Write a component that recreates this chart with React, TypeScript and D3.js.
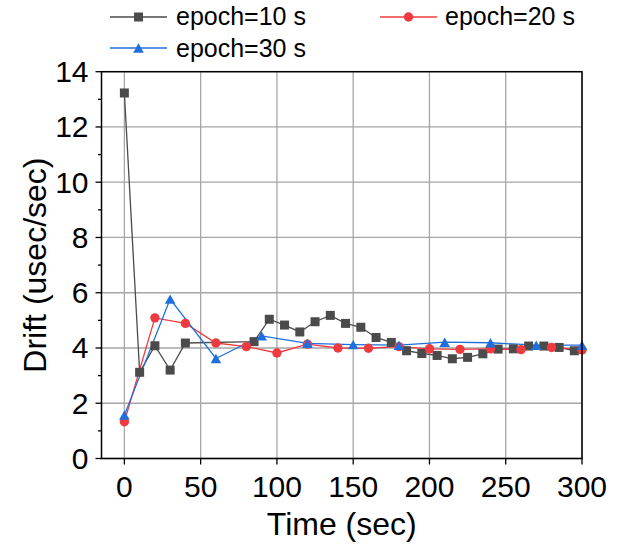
import React from "react";
import * as d3 from "d3";

const xTicks = [0, 50, 100, 150, 200, 250, 300];
const yTicks = [0, 2, 4, 6, 8, 10, 12, 14];
const yMinor = [1, 3, 5, 7, 9, 11, 13];

const e10X = [0, 10, 20, 30, 40, 85, 95, 105, 115, 125, 135, 145, 155, 165, 175, 185, 195, 205, 215, 225, 235, 245, 255, 265, 275, 285, 295];
const e10Y = [13.23, 3.12, 4.08, 3.2, 4.18, 4.23, 5.04, 4.83, 4.58, 4.95, 5.18, 4.89, 4.75, 4.38, 4.2, 3.9, 3.8, 3.73, 3.61, 3.66, 3.79, 3.96, 3.97, 4.07, 4.07, 4.02, 3.9];

const e20X = [0, 20, 40, 60, 80, 100, 120, 140, 160, 180, 200, 220, 240, 260, 280, 300];
const e20Y = [1.33, 5.09, 4.89, 4.18, 4.05, 3.82, 4.14, 4.0, 3.99, 4.05, 3.97, 3.95, 3.97, 3.94, 4.02, 3.93];

const e30X = [0, 30, 60, 90, 120, 150, 180, 210, 240, 270, 300];
const e30Y = [1.57, 5.77, 3.62, 4.44, 4.17, 4.12, 4.1, 4.21, 4.19, 4.1, 4.1];

const seriesNames = ["epoch=10 s", "epoch=20 s", "epoch=30 s"];
const colors = ["#4b4b4b", "#ef3b40", "#1f6fdc"];
const shapes = ["square", "circle", "triangle"];

const FONT = "'Liberation Sans', Arial, sans-serif";

const L = 101.5, R = 582, T = 71.7, B = 458.5;

function Marker({ shape, x, y, color }: { shape: string; x: number; y: number; color: string }) {
  if (shape === "square") return <rect x={x - 4.5} y={y - 4.5} width={9} height={9} fill={color} />;
  if (shape === "circle") return <circle cx={x} cy={y} r={4.7} fill={color} />;
  const w = 10.6, h = 9.4;
  return <path d={`M${x},${y - h / 2}L${x + w / 2},${y + h / 2}L${x - w / 2},${y + h / 2}Z`} fill={color} />;
}

export default function App() {
  const x = d3.scaleLinear().domain([-15, 300]).range([L, R]);
  const y = d3.scaleLinear().domain([0, 14]).range([B, T]);
  const line = d3.line<[number, number]>().x((d) => x(d[0])).y((d) => y(d[1]));
  const data = [
    e10X.map((v, i) => [v, e10Y[i]] as [number, number]),
    e20X.map((v, i) => [v, e20Y[i]] as [number, number]),
    e30X.map((v, i) => [v, e30Y[i]] as [number, number]),
  ];
  const legend = [
    { lx: 110, ly: 17, tx: 176, ty: 25 },
    { lx: 380, ly: 17, tx: 445, ty: 25 },
    { lx: 110, ly: 48, tx: 176, ty: 56.5 },
  ];
  return (
    <svg width={623} height={548} style={{ position: "absolute", left: 0, top: 0, background: "#fff" }} fontFamily={FONT}>
      {/* grid */}
      {xTicks.map((t) => (
        <line key={"gx" + t} x1={x(t)} x2={x(t)} y1={T} y2={B} stroke="#a6a6a6" strokeWidth={1.3} />
      ))}
      {yTicks.map((t) => (
        <line key={"gy" + t} x1={L} x2={R} y1={y(t)} y2={y(t)} stroke="#a6a6a6" strokeWidth={1.3} />
      ))}
      {/* series */}
      {data.map((d, i) => (
        <path key={"l" + i} d={line(d) || ""} fill="none" stroke={colors[i]} strokeWidth={1.3} />
      ))}
      {data.map((d, i) =>
        d.map((p, j) => <Marker key={"m" + i + "-" + j} shape={shapes[i]} x={x(p[0])} y={y(p[1])} color={colors[i]} />)
      )}
      {/* frame */}
      <rect x={L} y={T} width={R - L} height={B - T} fill="none" stroke="#000" strokeWidth={1.5} />
      {/* ticks */}
      {xTicks.map((t) => (
        <g key={"xt" + t}>
          <line x1={x(t)} x2={x(t)} y1={B} y2={B + 6} stroke="#000" strokeWidth={1.3} />
          <text x={x(t)} y={B + 38} textAnchor="middle" fontSize={30} fill="#000">{t}</text>
        </g>
      ))}
      {yTicks.map((t) => (
        <g key={"yt" + t}>
          <line x1={L - 6} x2={L} y1={y(t)} y2={y(t)} stroke="#000" strokeWidth={1.3} />
          <text x={88.5} y={y(t) + 10.5} textAnchor="end" fontSize={30} fill="#000">{t}</text>
        </g>
      ))}
      {yMinor.map((t) => (
        <line key={"ym" + t} x1={L - 3.5} x2={L} y1={y(t)} y2={y(t)} stroke="#000" strokeWidth={1.3} />
      ))}
      {/* axis titles */}
      <text x={(L + R) / 2} y={535} textAnchor="middle" fontSize={32} fill="#000">Time (sec)</text>
      <text transform={`translate(46,${(T + B) / 2}) rotate(-90)`} textAnchor="middle" fontSize={32} fill="#000">Drift (usec/sec)</text>
      {/* legend */}
      {legend.map((g, i) => (
        <g key={"lg" + i}>
          <line x1={g.lx} x2={g.lx + 57} y1={g.ly} y2={g.ly} stroke={colors[i]} strokeWidth={1.3} />
          <Marker shape={shapes[i]} x={g.lx + 28.5} y={g.ly} color={colors[i]} />
          <text x={g.tx} y={g.ty} fontSize={25} fill="#000">{seriesNames[i]}</text>
        </g>
      ))}
    </svg>
  );
}
